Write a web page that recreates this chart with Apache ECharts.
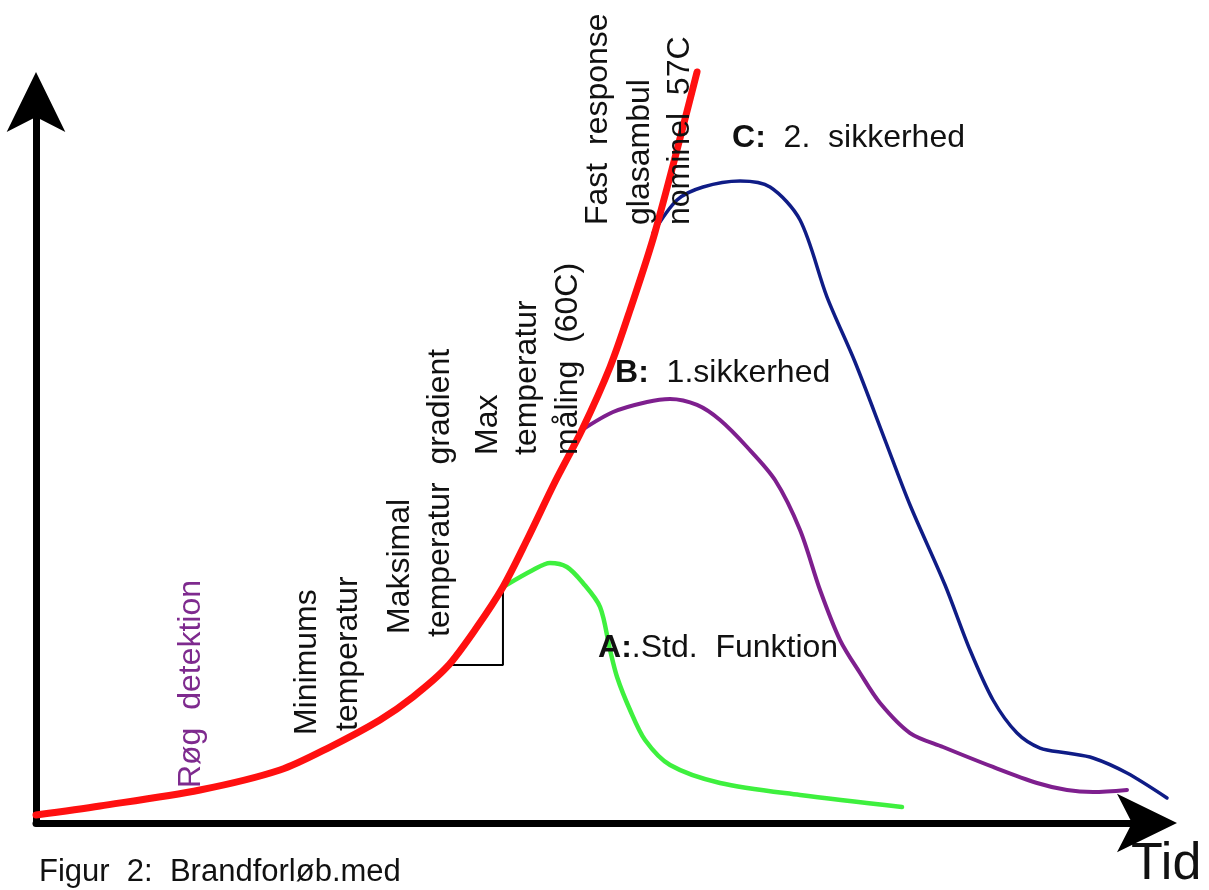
<!DOCTYPE html>
<html>
<head>
<meta charset="utf-8">
<script src="https://cdn.jsdelivr.net/npm/echarts@6/dist/echarts.min.js"></script>
<style>html,body{margin:0;padding:0;background:#fff}#c{width:1209px;height:890px}</style>
</head>
<body>
<div id="c"></div>
<script>
// Conceptual diagram: time (0-100) vs temperature (0-100)
const redCurve = [[0,1.11],[5.76,2.36],[14.76,4.58],[21.96,7.35],[26.46,10.54],[30.96,14.29],[33.93,17.48],[36.99,21.64],[39.69,27.18],[42.03,32.73],[44.19,39.25],[46.71,47.30],[49.14,54.51],[51.67,63.25],[53.47,71.15],[55.72,81.97],[59.5,104.16]];
const greenCurve = [[42.03,32.73],[44.73,35.09],[46.26,36.06],[47.79,35.51],[49.23,33.29],[50.77,29.96],[51.67,23.99],[52.30,20.25],[53.47,15.67],[54.82,11.51],[57.07,8.04],[61.57,5.55],[68.77,3.88],[77.95,2.22]];
const purpleCurve = [[49.14,54.51],[51.94,57.00],[55.00,58.39],[57.07,58.81],[59.50,57.98],[61.57,55.89],[64.00,52.15],[66.52,47.57],[68.77,40.64],[70.57,32.32],[72.37,25.38],[74.17,20.80],[75.97,16.64],[78.67,12.48],[81.64,10.54],[86.14,7.77],[90.10,5.55],[92.80,4.58],[95.14,4.30],[98.20,4.58]];
const blueCurve = [[55.54,81.83],[57.70,86.41],[60.04,88.21],[63.37,89.04],[66.07,88.21],[68.77,83.63],[71.20,72.95],[73.72,63.94],[76.42,53.12],[78.67,44.11],[81.82,33.01],[84.07,23.99],[86.14,17.06],[88.30,12.48],[90.37,10.40],[92.80,9.71],[95.14,9.02],[98.20,6.93],[101.8,3.47]];
const gradientTriangle = [[37.1,21.91],[42.03,21.91],[42.03,32.73]];

const noteTexts = ['Røg  detektion','Minimums','temperatur','Maksimal','temperatur  gradient','Max','temperatur','måling  (60C)','Fast  response','glasambul','nominel  57C'];
const noteAnchors = [[13.95,4.85],[24.39,12.2],[28.08,12.76],[32.76,26.21],[36.36,25.8],[40.68,51.04],[44.19,51.04],[47.88,51.04],[50.59,82.94],[54.37,82.94],[57.97,82.94]];

const caseKeys = ['A:', 'B:', 'C:'];
const caseTexts = ['.Std.  Funktion', '  1.sikkerhed', '  2.  sikkerhed'];
const caseAnchors = [[50.59,24.27],[52.12,62.41],[62.65,95.0]];

const axisName = 'Tid';
const caption = 'Figur  2:  Brandforløb.med';

const FONT = '"Liberation Sans", Arial, sans-serif';
const TXT = '#111';

const chart = echarts.init(document.getElementById('c'), null, {renderer: 'canvas'});

function curve(data, color, width, z) {
  return {
    type: 'line', xAxisIndex: 1, yAxisIndex: 1,
    data: data, smooth: 0.3, showSymbol: false, symbol: 'none',
    clip: false, silent: true, z: z,
    lineStyle: {color: color, width: width, cap: 'round', join: 'round'}
  };
}

const axisCommon = {
  type: 'value', min: 0, max: 100, gridIndex: 0,
  axisLine: {show: true, symbol: ['none', 'arrow'], symbolSize: [44, 60], symbolOffset: [0, 30],
    lineStyle: {color: '#000', width: 7, cap: 'round'}},
  axisTick: {show: false}, axisLabel: {show: false}, splitLine: {show: false}
};
const hiddenAxis = {type: 'value', min: 0, gridIndex: 1, show: false, splitLine: {show: false}};

chart.setOption({
  animation: false,
  backgroundColor: '#fff',
  title: {
    text: caption, left: 34, top: 852,
    textStyle: {fontFamily: FONT, fontSize: 31, fontWeight: 'normal', color: TXT}
  },
  grid: [
    {left: 36, right: 62, top: 102, bottom: 67, containLabel: false, outerBoundsMode: 'none'},
    {left: 36, width: 1177.66, top: 102, bottom: 67, containLabel: false, outerBoundsMode: 'none'}
  ],
  xAxis: [
    Object.assign({}, axisCommon, {
      name: axisName, nameLocation: 'end', nameGap: -16,
      nameTextStyle: {fontFamily: FONT, fontSize: 52, color: TXT, align: 'left', verticalAlign: 'top', padding: [16, 0, 0, 0]}
    }),
    Object.assign({}, hiddenAxis, {max: 106})
  ],
  yAxis: [
    Object.assign({}, axisCommon),
    Object.assign({}, hiddenAxis, {max: 100})
  ],
  series: [
    curve(redCurve, '#ff1010', 7, 3),
    curve(greenCurve, '#3ef03e', 4.5, 2),
    curve(purpleCurve, '#7e1f8e', 4, 2),
    curve(blueCurve, '#0f1c86', 3.5, 2),
    {
      type: 'line', xAxisIndex: 1, yAxisIndex: 1,
      data: gradientTriangle, smooth: false, showSymbol: false, symbol: 'none',
      clip: false, silent: true, z: 1, lineStyle: {color: '#000', width: 2}
    },
    {
      type: 'scatter', xAxisIndex: 1, yAxisIndex: 1, silent: true, z: 5, symbolSize: 1,
      itemStyle: {color: 'rgba(0,0,0,0)', opacity: 1},
      data: noteTexts.map((t, i) => ({
        value: noteAnchors[i], name: t,
        label: {color: i === 0 ? '#7e2a8e' : TXT}
      })),
      label: {
        show: true, position: 'inside', rotate: 90, align: 'left', verticalAlign: 'middle',
        fontFamily: FONT, fontSize: 32, opacity: 1, textBorderWidth: 0, formatter: '{b}'
      }
    },
    {
      type: 'scatter', xAxisIndex: 1, yAxisIndex: 1, silent: true, z: 5, symbolSize: 1,
      itemStyle: {color: 'rgba(0,0,0,0)', opacity: 1},
      data: caseKeys.map((k, i) => ({value: caseAnchors[i], name: k})),
      label: {
        show: true, position: 'inside', align: 'left', verticalAlign: 'middle',
        fontFamily: FONT, fontSize: 32, color: TXT, opacity: 1, textBorderWidth: 0,
        formatter: p => '{b|' + caseKeys[p.dataIndex] + '}' + caseTexts[p.dataIndex],
        rich: {b: {fontFamily: FONT, fontSize: 32, fontWeight: 'bold', color: TXT}}
      }
    }
  ]
});
</script>
</body>
</html>
